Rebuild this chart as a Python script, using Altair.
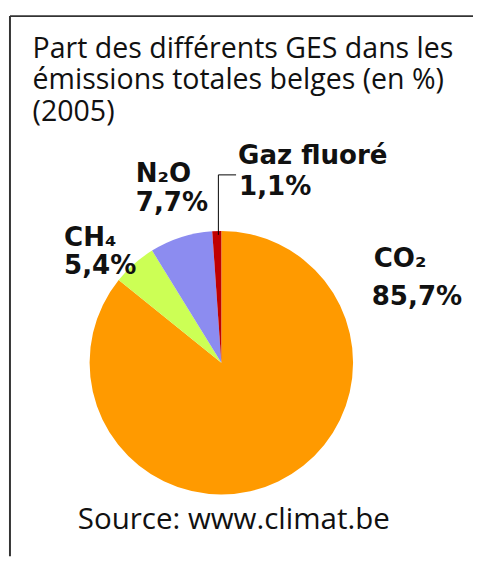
import altair as alt
import pandas as pd

# ---- data ----
categories = ["CO₂", "CH₄", "N₂O", "Gaz fluoré"]
values = [85.7, 5.4, 7.7, 1.1]
colors = ["#FF9A00", "#CCFF55", "#8C8CF0", "#C00000"]
title_lines = ["Part des différents GES dans les",
               "émissions totales belges (en %)",
               "(2005)"]
source = "Source: www.climat.be"

pct_labels = [f"{v:.1f}".replace(".", ",") + "%" for v in values]
df = pd.DataFrame({"gaz": categories, "part": values,
                   "ordre": list(range(len(categories)))})

W, H = 473, 553
FONT = "Open Sans"
BOLD = "DejaVu Sans"

# ---- pie ----
pie = alt.Chart(df).mark_arc(outerRadius=134, stroke=None).encode(
    theta=alt.Theta("part:Q", stack=True),
    order=alt.Order("ordre:Q"),
    color=alt.Color("gaz:N", scale=alt.Scale(domain=categories, range=colors), legend=None),
    x=alt.value(217), y=alt.value(356),
)

layers = [pie]

# border (left + top)
base = alt.Chart(pd.DataFrame({"a": [0]}))
layers.append(base.mark_rule(color="#333333", strokeWidth=2).encode(
    x=alt.value(2), y=alt.value(3.5), y2=alt.value(H)))
layers.append(base.mark_rule(color="#333333", strokeWidth=2).encode(
    x=alt.value(2), x2=alt.value(W), y=alt.value(3.5)))

# leader line for Gaz fluoré
layers.append(base.mark_rule(color="black", strokeWidth=1).encode(
    x=alt.value(214), y=alt.value(165), y2=alt.value(226)))
layers.append(base.mark_rule(color="black", strokeWidth=1).encode(
    x=alt.value(214), x2=alt.value(232), y=alt.value(165)))

# title
for i, line in enumerate(title_lines):
    layers.append(base.mark_text(text=line, font=FONT, fontSize=29, align="left",
                                 baseline="alphabetic", color="#111111").encode(
        x=alt.value(25), y=alt.value(46 + 32 * i)))

# labels: (name position, pct position)
label_pos = {
    "CO₂": ((372, 259), (370, 297)),
    "CH₄": ((57, 237), (57, 266)),
    "N₂O": ((130, 172), (130, 202)),
    "Gaz fluoré": ((234, 154), (235, 185)),
}
for cat, pct in zip(categories, pct_labels):
    (nx, ny), (px, py) = label_pos[cat]
    for txt, x, y in ((cat, nx, ny), (pct, px, py)):
        layers.append(base.mark_text(text=txt, font=BOLD, fontSize=26.5, fontWeight="bold",
                                     align="left", baseline="alphabetic", color="#111111").encode(
            x=alt.value(x), y=alt.value(y)))

# source
layers.append(base.mark_text(text=source, font=FONT, fontSize=30, align="left",
                             baseline="alphabetic", color="#111111").encode(
    x=alt.value(71), y=alt.value(525)))

chart = alt.layer(*layers).properties(
    width=W, height=H, padding=0, autosize=alt.AutoSizeParams(type="none")
).configure_view(stroke=None)

chart.save("out.html", embed_options={"renderer": "svg", "actions": False})
